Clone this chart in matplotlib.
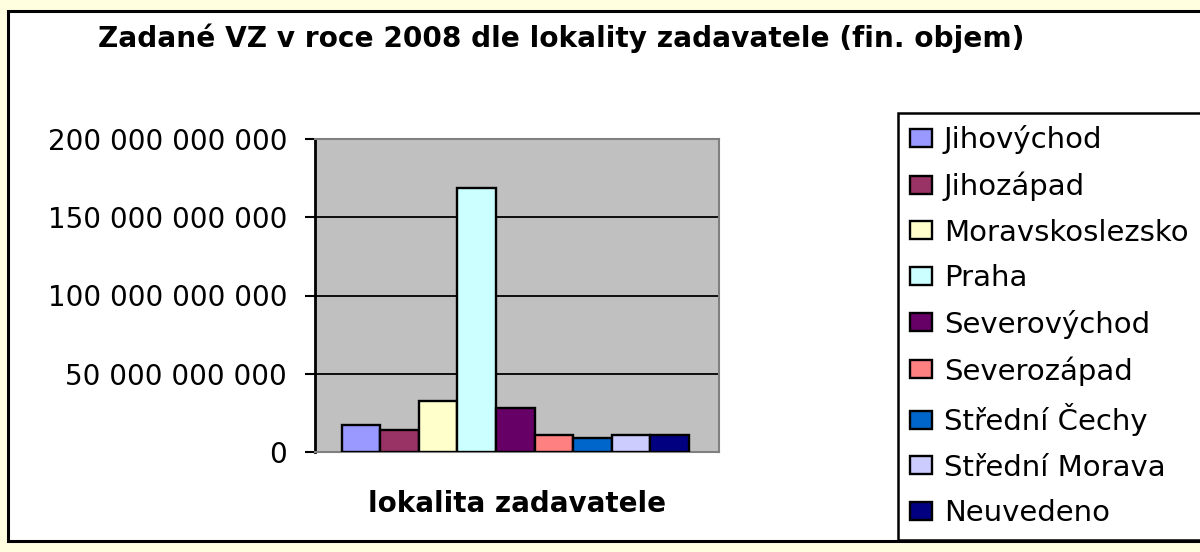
import matplotlib.pyplot as plt
from matplotlib.patches import Rectangle
from matplotlib.ticker import FuncFormatter

# Data (financial volume by region of the contracting authority)
regions = ["Jihovýchod", "Jihozápad", "Moravskoslezsko", "Praha", "Severovýchod",
           "Severozápad", "Střední Čechy", "Střední Morava", "Neuvedeno"]
volumes = [17.2e9, 14.0e9, 32.7e9, 168.9e9, 28.3e9, 10.7e9, 9.1e9, 10.7e9, 11.0e9]
colors = ["#9999FF", "#993366", "#FFFFCC", "#CCFFFF", "#660066",
          "#FF8080", "#0066CC", "#CCCCFF", "#000080"]
yticks = [0, 50e9, 100e9, 150e9, 200e9]

W, H = 1200, 552
fig = plt.figure(figsize=(12, 5.52), dpi=100, facecolor="#FFFFE0")

# white chart area with black frame
fig.add_artist(Rectangle((8 / W, 1 - 541 / H), 1.05, (541 - 11) / H,
                         transform=fig.transFigure, facecolor="white",
                         edgecolor="black", linewidth=2.2, zorder=-1))

# plot area in pixels: x 315..719, y 139..452
ax = fig.add_axes([315 / W, 1 - 452 / H, 404 / W, 313 / H])
ax.set_facecolor("#C0C0C0")

for i, (name, v, c) in enumerate(zip(regions, volumes, colors)):
    ax.bar(i, v, width=1.0, color=c, edgecolor="black", linewidth=1.7,
           label=name, zorder=3)

ax.set_xlim(-1.19, 9.28)
ax.set_ylim(0, 200e9)
ax.set_yticks(yticks)
ax.yaxis.set_major_formatter(FuncFormatter(lambda v, p: f"{int(v):,}".replace(",", " ")))
ax.set_xticks([])
ax.grid(axis="y", color="black", linewidth=1.3, zorder=1)
ax.tick_params(axis="y", length=7, width=1.5, pad=13, labelsize=20, direction="out")

for s in ["top", "right", "bottom"]:
    ax.spines[s].set_color("#808080")
    ax.spines[s].set_linewidth(1.5)
ax.spines["left"].set_color("black")
ax.spines["left"].set_linewidth(2)

# title and axis label
fig.text(98 / W, 1 - 46.7 / H, "Zadané VZ v roce 2008 dle lokality zadavatele (fin. objem)",
         fontsize=20.2, fontweight="bold", ha="left", va="baseline")
fig.text(517 / W, 1 - 512 / H, "lokalita zadavatele",
         fontsize=20, fontweight="bold", ha="center", va="baseline")

# legend
leg = fig.legend(loc="upper left", bbox_to_anchor=(898 / W, 1 - 113 / H),
                 fontsize=21, frameon=True, fancybox=False, framealpha=1,
                 borderpad=0.42, handlelength=0.75, handleheight=0.57,
                 handletextpad=0.4, labelspacing=0.6, borderaxespad=0)
leg.get_frame().set_edgecolor("black")
leg.get_frame().set_linewidth(1.8)

fig.savefig("out.png", dpi=100, facecolor=fig.get_facecolor())
